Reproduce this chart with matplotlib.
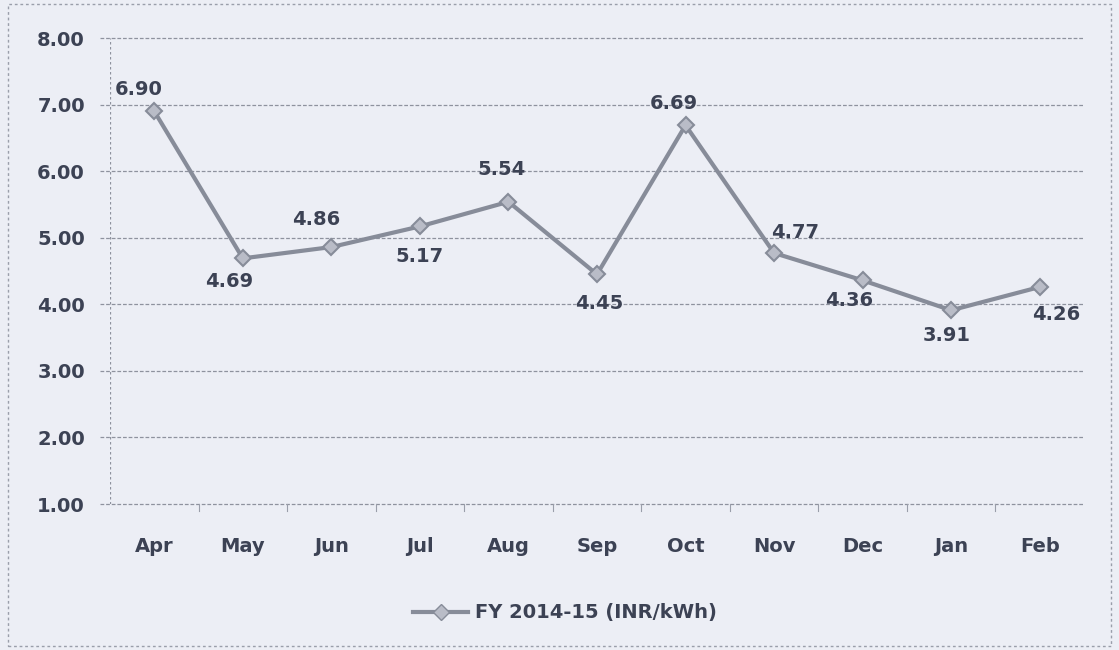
import matplotlib
matplotlib.use("Agg")
import matplotlib.pyplot as plt
from matplotlib.patches import Rectangle
from matplotlib.lines import Line2D

months = ["Apr", "May", "Jun", "Jul", "Aug", "Sep", "Oct", "Nov", "Dec", "Jan", "Feb"]
values = [6.90, 4.69, 4.86, 5.17, 5.54, 4.45, 6.69, 4.77, 4.36, 3.91, 4.26]
y_ticks = [1.00, 2.00, 3.00, 4.00, 5.00, 6.00, 7.00, 8.00]
series_name = "FY 2014-15 (INR/kWh)"

# label offsets in points (dx, dy)
label_offsets = [(-11.5, 16), (-9.5, -16.5), (-11, 19.5), (0, -21.5), (-5, 23), (1.5, -21),
                 (-8.5, 16), (15, 14.5), (-10, -14.5), (-3.5, -18), (12, -20)]

bg = "#eceef5"
txt = "#3c4254"
line_c = "#878c99"
grid_c = "#8e929e"

plt.rcParams['font.family'] = ['DejaVu Sans']
fig = plt.figure(figsize=(11.19, 6.5), dpi=100, facecolor=bg)
ax = fig.add_axes([0.0983, 0.2246, 0.8704, 0.7169], facecolor=bg)

x = list(range(len(months)))
ax.plot(x, values, color=line_c, lw=3.0, marker="D", markersize=8.5,
        markerfacecolor="#b9bcc7", markeredgecolor=line_c, markeredgewidth=1.5,
        label=series_name, zorder=3)

for xi, v, (dx, dy) in zip(x, values, label_offsets):
    ax.annotate(f"{v:.2f}", (xi, v), xytext=(dx, dy), textcoords="offset points",
                ha="center", va="center", fontsize=14, fontweight="bold", color=txt)

ax.set_xlim(-0.5, len(months) - 0.5)
ax.set_ylim(1, 8)
ax.set_yticks(y_ticks)
ax.set_yticklabels([f"{t:.2f}" for t in y_ticks])
ax.set_xticks(x)
ax.set_xticklabels(months)
ax.tick_params(axis="both", labelsize=14, colors=txt, length=0)
ax.tick_params(axis="y", pad=18)
ax.tick_params(axis="x", pad=24)
for lab in ax.get_xticklabels() + ax.get_yticklabels():
    lab.set_fontweight("bold")

# gridlines
for t in y_ticks:
    ax.plot([-0.613, len(months) - 0.5], [t, t], color=grid_c, lw=0.9,
            ls=(0, (3, 1.5)), clip_on=False, zorder=1)
# category separators on the x-axis
for b in [i + 0.5 for i in range(len(months) - 1)]:
    ax.plot([b, b], [1, 0.9], color="#9a9eaa", lw=0.8, clip_on=False)

for s in ax.spines.values():
    s.set_visible(False)
ax.axvline(-0.5, color=grid_c, lw=0.9, ls=(0, (2, 2)), zorder=1)

leg_handle = Line2D([0], [0], color=line_c, lw=3.0, marker="D", markersize=8.5,
                    markerfacecolor="#b9bcc7", markeredgecolor=line_c)
leg = fig.legend([leg_handle], [series_name], loc="center", bbox_to_anchor=(0.505, 0.057),
                 frameon=False, fontsize=14, handlelength=2.8, handletextpad=0.36)
for t in leg.get_texts():
    t.set_fontweight("bold")
    t.set_color(txt)

fig.patches.append(Rectangle((0.007, 0.006), 0.986, 0.988, transform=fig.transFigure,
                             fill=False, edgecolor="#9a9eaa", lw=1.0, ls=(0, (2, 2))))

fig.savefig("out.png", dpi=100, facecolor=bg)
